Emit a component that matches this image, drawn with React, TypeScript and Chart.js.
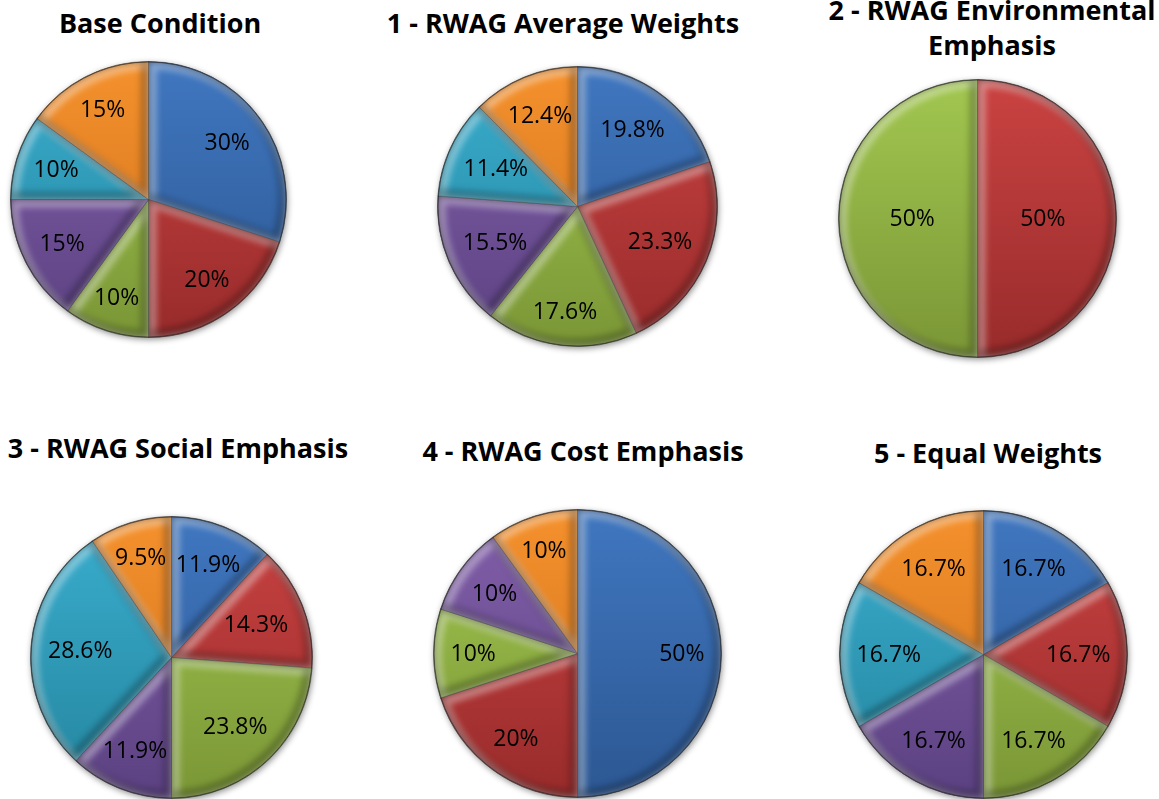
import React, { useEffect, useRef } from "react";
import { Chart, registerables } from "chart.js";

Chart.register(...registerables);

// Criteria (slice order, clockwise from 12 o'clock)
const criteria = ["Criterion 1", "Criterion 2", "Criterion 3", "Criterion 4", "Criterion 5", "Criterion 6"];

// Weight shares (%) for each scenario
const baseCondition = [30, 20, 10, 15, 10, 15];
const rwagAverageWeights = [19.8, 23.3, 17.6, 15.5, 11.4, 12.4];
const rwagEnvironmentalEmphasis = [0, 50, 50, 0, 0, 0];
const rwagSocialEmphasis = [11.9, 14.3, 23.8, 11.9, 28.6, 9.5];
const rwagCostEmphasis = [50, 20, 10, 10, 0, 10];
const equalWeights = [16.7, 16.7, 16.7, 16.7, 16.7, 16.7];

// Scenario titles
const titleBase = ["Base Condition"];
const titleAverage = ["1 - RWAG Average Weights"];
const titleEnvironmental = ["2 - RWAG Environmental", "Emphasis"];
const titleSocial = ["3 - RWAG Social Emphasis"];
const titleCost = ["4 - RWAG Cost Emphasis"];
const titleEqual = ["5 - Equal Weights"];

// Slice shading: [top, bottom] of the vertical gradient
const sliceShades: [string, string][] = [
  ["#4077c0", "#2c5792"],
  ["#ca4342", "#982b2b"],
  ["#a2c750", "#7a9636"],
  ["#8360ab", "#5b4181"],
  ["#3aaecf", "#24849d"],
  ["#f5912d", "#cd711b"],
];

type Panel = {
  values: number[];
  title: string[];
  cx: number;
  cy: number;
  r: number;
  titleX: number;
  titleBaseline: number;
  labelRadius?: number;
};

const panels: Panel[] = [
  { values: baseCondition, title: titleBase, cx: 148, cy: 199, r: 138, titleX: 160, titleBaseline: 33 },
  { values: rwagAverageWeights, title: titleAverage, cx: 577, cy: 206, r: 140, titleX: 563, titleBaseline: 33 },
  { values: rwagEnvironmentalEmphasis, title: titleEnvironmental, cx: 977, cy: 218, r: 139, titleX: 992, titleBaseline: 20, labelRadius: 0.47 },
  { values: rwagSocialEmphasis, title: titleSocial, cx: 171, cy: 657, r: 141, titleX: 178, titleBaseline: 458 },
  { values: rwagCostEmphasis, title: titleCost, cx: 577, cy: 653, r: 144, titleX: 583, titleBaseline: 461 },
  { values: equalWeights, title: titleEqual, cx: 983, cy: 654, r: 144, titleX: 988, titleBaseline: 463 },
];

const PAD = 12;
const LABEL_FONT = 23;
const TITLE_FONT = 27;

function arcPath(ctx: CanvasRenderingContext2D, x: number, y: number, r: number, a0: number, a1: number) {
  ctx.beginPath();
  ctx.moveTo(x, y);
  ctx.arc(x, y, r, a0, a1);
  ctx.closePath();
}

// Soft drop shadow under the whole pie
const pieShadow = {
  id: "pieShadow",
  beforeDatasetsDraw(chart: any) {
    const el = chart.getDatasetMeta(0).data[0];
    if (!el) return;
    const ctx = chart.ctx as CanvasRenderingContext2D;
    ctx.save();
    ctx.shadowColor = "rgba(0,0,0,0.45)";
    ctx.shadowBlur = 6;
    ctx.shadowOffsetX = 1;
    ctx.shadowOffsetY = 2;
    ctx.beginPath();
    ctx.arc(el.x, el.y, el.outerRadius, 0, Math.PI * 2);
    ctx.fillStyle = "#777";
    ctx.fill();
    ctx.restore();
  },
};

// Bevelled edges on each slice, light on the upper-left edges and dark on the lower-right
const sliceBevel = {
  id: "sliceBevel",
  afterDatasetsDraw(chart: any) {
    const ctx = chart.ctx as CanvasRenderingContext2D;
    const meta = chart.getDatasetMeta(0);
    meta.data.forEach((el: any) => {
      const { x, y, startAngle, endAngle, outerRadius } = el.getProps(
        ["x", "y", "startAngle", "endAngle", "outerRadius"],
        true
      );
      if (endAngle - startAngle <= 0) return;
      ctx.save();
      arcPath(ctx, x, y, outerRadius, startAngle, endAngle);
      ctx.clip();
      ctx.filter = "blur(3px)";
      ctx.lineWidth = 10;
      ctx.lineJoin = "round";
      ctx.save();
      ctx.translate(3, 3);
      arcPath(ctx, x, y, outerRadius, startAngle, endAngle);
      ctx.strokeStyle = "rgba(255,255,255,0.38)";
      ctx.stroke();
      ctx.restore();
      ctx.save();
      ctx.translate(-3, -3);
      arcPath(ctx, x, y, outerRadius, startAngle, endAngle);
      ctx.strokeStyle = "rgba(0,0,0,0.26)";
      ctx.stroke();
      ctx.restore();
      ctx.restore();
    });
    // outer rim
    const first = meta.data[0];
    if (first) {
      ctx.save();
      ctx.beginPath();
      ctx.arc(first.x, first.y, first.outerRadius - 0.5, 0, Math.PI * 2);
      ctx.strokeStyle = "rgba(30,30,30,0.6)";
      ctx.lineWidth = 1;
      ctx.stroke();
      ctx.restore();
    }
  },
};

// Percentage labels placed inside each slice, pushed out towards the rim
const sliceLabels = {
  id: "sliceLabels",
  afterDatasetsDraw(chart: any, _args: any, opts: any) {
    const ctx = chart.ctx as CanvasRenderingContext2D;
    const meta = chart.getDatasetMeta(0);
    const values = chart.data.datasets[0].data as number[];
    ctx.save();
    ctx.font = `${LABEL_FONT}px "Open Sans", "DejaVu Sans", sans-serif`;
    ctx.fillStyle = "#000";
    ctx.textAlign = "center";
    ctx.textBaseline = "middle";
    meta.data.forEach((el: any, i: number) => {
      const v = values[i];
      if (!v) return;
      const { x, y, startAngle, endAngle, outerRadius } = el.getProps(
        ["x", "y", "startAngle", "endAngle", "outerRadius"],
        true
      );
      const mid = (startAngle + endAngle) / 2;
      const ux = Math.cos(mid);
      const uy = Math.sin(mid);
      const text = `${v}%`;
      let d: number;
      if (opts && opts.radius) {
        d = outerRadius * opts.radius;
      } else {
        const w = ctx.measureText(text).width;
        const h = 22;
        const limit = outerRadius * 0.885;
        let lo = 0;
        let hi = outerRadius;
        for (let k = 0; k < 30; k++) {
          const m = (lo + hi) / 2;
          const fx = Math.abs(ux * m) + w / 2;
          const fy = Math.abs(uy * m) + h / 2;
          if (Math.hypot(fx, fy) > limit) hi = m;
          else lo = m;
        }
        d = lo;
      }
      ctx.fillText(text, x + ux * d, y + uy * d + 1);
    });
    ctx.restore();
  },
};

function PiePanel({ panel }: { panel: Panel }) {
  const ref = useRef<HTMLCanvasElement | null>(null);
  const size = panel.r * 2 + 1 + PAD * 2;

  useEffect(() => {
    if (!ref.current) return;
    const chart = new Chart(ref.current, {
      type: "pie",
      data: {
        labels: criteria,
        datasets: [
          {
            data: panel.values,
            backgroundColor: (c: any) => {
              const [top, bottom] = sliceShades[c.dataIndex % sliceShades.length];
              const area = c.chart.chartArea;
              if (!area) return top;
              const g = c.chart.ctx.createLinearGradient(0, area.top, 0, area.bottom);
              g.addColorStop(0, top);
              g.addColorStop(1, bottom);
              return g;
            },
            borderColor: "rgba(20,20,20,0.45)",
            borderWidth: 1,
          },
        ],
      },
      options: {
        responsive: false,
        animation: false,
        layout: { padding: PAD },
        plugins: {
          legend: { display: false },
          tooltip: { enabled: false },
          title: { display: false },
          sliceLabels: { radius: panel.labelRadius },
        } as any,
      },
      plugins: [pieShadow, sliceBevel, sliceLabels],
    });
    return () => chart.destroy();
  }, [panel]);

  return (
    <canvas
      ref={ref}
      width={size}
      height={size}
      style={{
        position: "absolute",
        left: panel.cx - panel.r - PAD - 0.5,
        top: panel.cy - panel.r - PAD - 0.5,
        width: size,
        height: size,
      }}
    />
  );
}

function PanelTitle({ panel }: { panel: Panel }) {
  const lineHeight = 35;
  // Open Sans: ascent 1.069em, descent 0.293em
  const content = TITLE_FONT * (1.069 + 0.293);
  const baselineOffset = (lineHeight - content) / 2 + TITLE_FONT * 1.069;
  return (
    <div
      style={{
        position: "absolute",
        left: panel.titleX - 250,
        width: 500,
        top: panel.titleBaseline - baselineOffset,
        textAlign: "center",
        fontFamily: '"Open Sans", sans-serif',
        fontWeight: 700,
        fontSize: TITLE_FONT,
        lineHeight: `${lineHeight}px`,
        color: "#000",
        whiteSpace: "nowrap",
      }}
    >
      {panel.title.map((t, i) => (
        <div key={i}>{t}</div>
      ))}
    </div>
  );
}

export default function App() {
  return (
    <div
      style={{
        position: "absolute",
        left: 0,
        top: 0,
        width: 1159,
        height: 799,
        background: "#fff",
        overflow: "hidden",
      }}
    >
      {panels.map((p, i) => (
        <React.Fragment key={i}>
          <PanelTitle panel={p} />
          <PiePanel panel={p} />
        </React.Fragment>
      ))}
    </div>
  );
}
